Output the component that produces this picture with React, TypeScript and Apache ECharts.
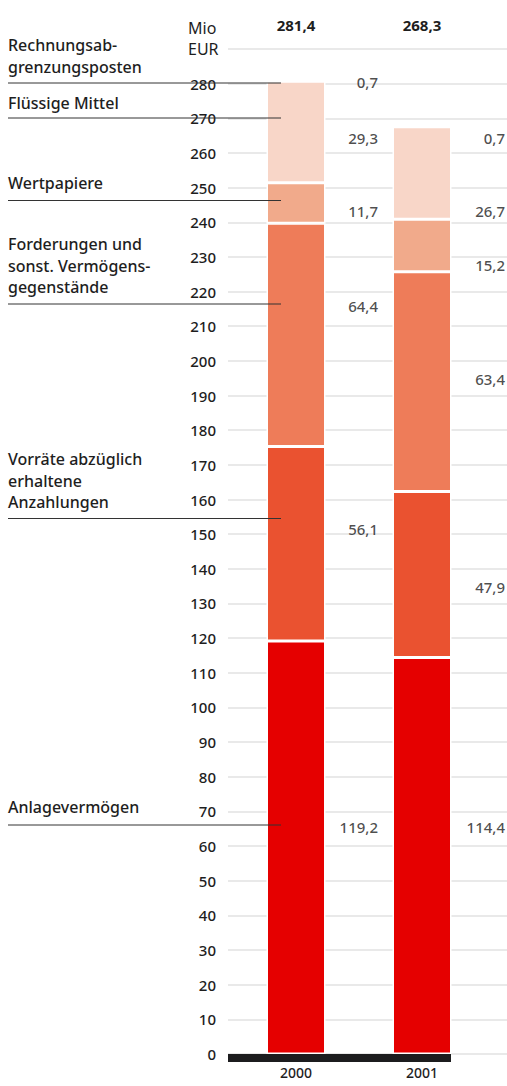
import React, { useEffect, useRef } from "react";
import * as echarts from "echarts";

// ---- data ----
const years = ["2000", "2001"];
const totals = [281.4, 268.3];
const segmentNames = [
  "Anlagevermögen",
  "Vorräte abzüglich erhaltene Anzahlungen",
  "Forderungen und sonst. Vermögensgegenstände",
  "Wertpapiere",
  "Flüssige Mittel",
  "Rechnungsabgrenzungsposten",
];
const anlage = [119.2, 114.4];
const vorraete = [56.1, 47.9];
const forderungen = [64.4, 63.4];
const wertpapiere = [11.7, 15.2];
const fluessig = [29.3, 26.7];
const rap = [0.7, 0.7];
const segmentValues = [anlage, vorraete, forderungen, wertpapiere, fluessig, rap];
const yTicks = [0, 290, 10];

// ---- layout (label anchors in axis units, annotation placement in px) ----
const labelAnchors2000 = [65.4, 151.6, 215.7, 243.2, 264.4, 280.5];
const labelAnchors2001 = [65.4, 134.8, 194.9, 227.6, 243.2, 264.4];
const colors = ["#e50000", "#ea5230", "#ee7c59", "#f1aa8b", "#f8d6c8", "#fce9e0"];
const annotations = [
  { lines: ["Anlagevermögen"], y0: 810, lineY: 825 },
  { lines: ["Vorräte abzüglich", "erhaltene", "Anzahlungen"], y0: 462, lineY: 518.5 },
  { lines: ["Forderungen und", "sonst. Vermögens-", "gegenstände"], y0: 247, lineY: 304 },
  { lines: ["Wertpapiere"], y0: 186, lineY: 200.5 },
  { lines: ["Flüssige Mittel"], y0: 106, lineY: 118 },
  { lines: ["Rechnungsab-", "grenzungsposten"], y0: 48, lineY: 83 },
];

const FONT = "'Noto Sans', sans-serif";
const fmt = (v: number) => v.toFixed(1).replace(".", ",");

export default function App() {
  const ref = useRef<HTMLDivElement>(null);
  useEffect(() => {
    if (!ref.current) return;
    const chart = echarts.init(ref.current, null, { renderer: "svg" });

    const graphics: any[] = [];
    annotations.forEach((a) => {
      a.lines.forEach((t, i) => {
        graphics.push({
          type: "text",
          left: 8,
          top: a.y0 + i * 21.5 - 11,
          style: { text: t, font: `500 16px ${FONT}`, fill: "#1e1e1e" },
        });
      });
      graphics.push({
        type: "line",
        shape: { x1: 8, y1: a.lineY, x2: 281, y2: a.lineY },
        style: { stroke: "#333", lineWidth: 1 },
        z: 100,
      });
    });
    graphics.push({
      type: "rect",
      shape: { x: 228, y: 1054, width: 223, height: 8 },
      style: { fill: "#1c1c1e" },
      z: 50,
    });
    graphics.push({
      type: "text",
      left: 188,
      top: 17,
      style: { text: "Mio\nEUR", font: `400 16px ${FONT}`, fill: "#1e1e1e", lineHeight: 21 },
    });

    const barSeries = segmentValues.map((vals, i) => ({
      type: "bar",
      name: segmentNames[i],
      stack: "total",
      xAxisIndex: 1,
      yAxisIndex: 1,
      barWidth: 59,
      data: vals,
      itemStyle: { color: colors[i], borderColor: "#fff", borderWidth: 1.5 },
    }));

    const labelSeries = [labelAnchors2000, labelAnchors2001].map((anchors, yi) => ({
      type: "scatter",
      xAxisIndex: 1,
      yAxisIndex: 1,
      symbolSize: 0,
      silent: true,
      z: 10,
      data: anchors.map((a, si) => [yi, a, segmentValues[si][yi]]),
      label: {
        show: true,
        position: "inside",
        align: "right",
        verticalAlign: "middle",
        offset: [yi === 0 ? 82 : 83, 0],
        formatter: (p: any) => fmt(p.value[2]),
        fontFamily: FONT,
        fontSize: 15,
        fontWeight: 500,
        color: "#1e1e1e",
      },
    }));

    chart.setOption({
      animation: false,
      grid: [
        { left: 228, width: 279, top: 49, bottom: 32 },
        { left: 233, width: 252, top: 49, bottom: 32 },
      ],
      xAxis: [
        { gridIndex: 0, type: "value", show: false, min: 0, max: 1 },
        {
          gridIndex: 1,
          type: "category",
          data: years,
          axisLine: { show: false },
          axisTick: { show: false },
          axisLabel: { margin: 11, fontFamily: FONT, fontSize: 14, fontWeight: 500, color: "#1e1e1e" },
        },
        {
          gridIndex: 1,
          type: "category",
          position: "top",
          data: totals.map(fmt),
          axisLine: { show: false },
          axisTick: { show: false },
          axisLabel: { margin: 17, fontFamily: FONT, fontSize: 15, fontWeight: 700, color: "#1e1e1e" },
        },
      ],
      yAxis: [
        {
          gridIndex: 0,
          type: "value",
          min: yTicks[0],
          max: yTicks[1],
          interval: yTicks[2],
          axisLine: { show: false },
          axisTick: { show: false },
          splitLine: { lineStyle: { color: "#e2e2e2", width: 1.5 } },
          axisLabel: {
            margin: 12,
            fontFamily: FONT,
            fontSize: 15,
            fontWeight: 500,
            color: "#1e1e1e",
            formatter: (v: number) => (v === yTicks[1] ? "" : String(v)),
          },
        },
        {
          gridIndex: 1,
          type: "value",
          min: yTicks[0],
          max: yTicks[1],
          interval: yTicks[2],
          show: false,
        },
      ],
      graphic: graphics,
      series: [...barSeries, ...labelSeries],
    });
    return () => chart.dispose();
  }, []);
  return (
    <div
      ref={ref}
      style={{ position: "fixed", left: 0, top: 0, width: 507, height: 1086, background: "#fff" }}
    />
  );
}
